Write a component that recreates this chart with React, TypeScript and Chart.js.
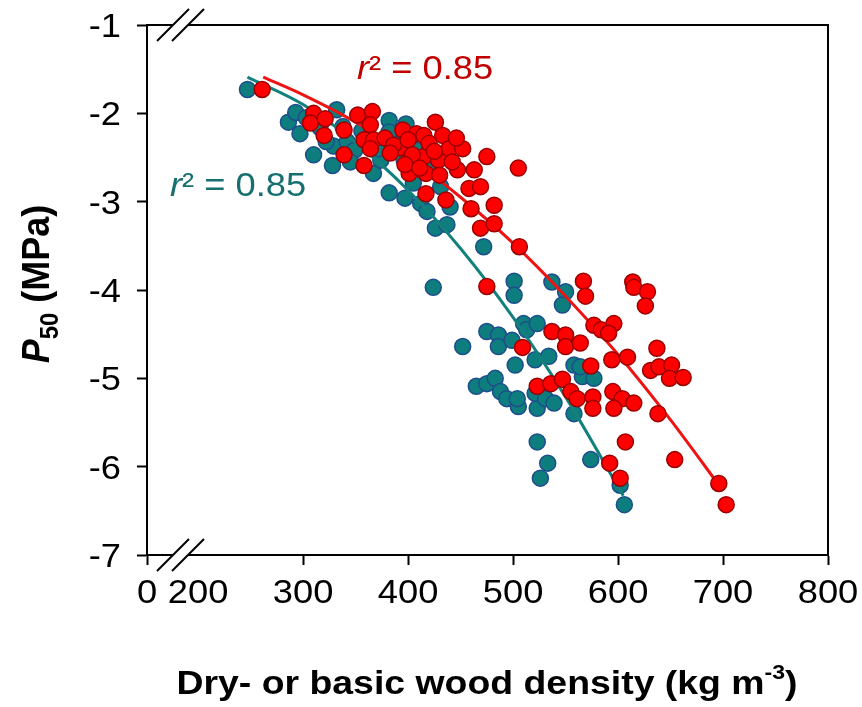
import React, { useEffect, useRef } from "react";
import { Chart, registerables } from "chart.js";
Chart.register(...registerables);

// ---------- data ----------
const X_MIN = 151.3; // broken axis: left edge is labelled "0"
const X_MAX = 800;
const X_TICKS = [151.3, 200, 300, 400, 500, 600, 700, 800];
const X_TICK_LABELS = ["0", "200", "300", "400", "500", "600", "700", "800"];
const Y_TICKS = [-1, -2, -3, -4, -5, -6, -7];
const Y_TICK_LABELS = ["-1", "-2", "-3", "-4", "-5", "-6", "-7"];

const tealX = [247, 286, 293, 297, 310, 332, 329, 328, 342, 382, 382, 367, 374, 382, 397, 412, 418, 426, 437, 440, 431, 405, 472, 424,
  501, 501, 537, 550, 547, 452, 475, 486, 486, 499, 502, 510, 513, 523, 521, 534, 558, 567, 566, 577, 465, 475, 483, 488, 494, 505,
  504, 523, 521, 531, 539, 558, 523, 533, 526, 574, 602, 606, 564,
  303, 316, 322, 338, 349, 356, 372, 388, 396, 408, 420, 398, 345];
const tealY = [-1.73, -2.10, -1.99, -2.23, -2.47, -1.96, -2.37, -2.59, -2.32, -2.08, -2.21, -2.68, -2.53, -2.90, -2.96, -3.02, -3.11, -3.30, -3.26, -3.06, -2.83, -2.79, -3.51, -3.97,
  -3.90, -4.06, -3.91, -4.02, -4.17, -4.64, -4.47, -4.51, -4.64, -4.57, -4.85, -4.38, -4.45, -4.38, -4.79, -4.75, -4.85, -4.89, -4.98, -5.00, -5.09, -5.06, -5.00, -5.15, -5.23, -5.32,
  -5.23, -5.34, -5.17, -5.23, -5.28, -5.40, -5.72, -5.96, -6.13, -5.92, -6.21, -6.43, -4.87,
  -2.05, -2.16, -2.32, -2.15, -2.42, -2.20, -2.40, -2.35, -2.52, -2.42, -2.62, -2.12, -2.55];

const redX = [261, 310, 307, 321, 320, 339, 339, 352, 366, 364, 358, 367, 358, 364, 395, 408, 392, 415, 426, 433, 439, 415, 429, 401,
  417, 417, 436, 452, 463, 475, 458, 469, 482, 460, 469, 482, 447, 475, 506, 505, 567, 569, 614, 615, 628, 626, 537, 550, 550, 564,
  509, 577, 584, 596, 591, 594, 609, 574, 637, 631, 639, 651, 649, 662, 523, 536, 547, 555, 561, 576, 576, 595, 604, 615, 596, 638,
  607, 654, 592, 602, 696, 703,
  378, 386, 400, 404, 420, 425, 397, 411, 442, 446, 383, 430];
const redY = [-1.73, -2.00, -2.11, -2.06, -2.25, -2.19, -2.47, -2.02, -1.98, -2.13, -2.30, -2.30, -2.59, -2.40, -2.19, -2.23, -2.39, -2.25, -2.10, -2.25, -2.40, -2.49, -2.53, -2.68,
  -2.68, -2.91, -2.98, -2.40, -2.64, -2.49, -2.85, -2.83, -3.04, -3.08, -3.30, -3.25, -2.64, -3.96, -3.51, -2.62, -3.90, -4.07, -3.91, -3.97, -4.02, -4.18, -4.47, -4.51, -4.64, -4.60,
  -4.65, -4.40, -4.45, -4.38, -4.49, -4.79, -4.76, -4.86, -4.66, -4.91, -4.87, -4.85, -5.00, -4.99, -5.09, -5.06, -5.01, -5.15, -5.23, -5.21, -5.34, -5.15, -5.23, -5.28, -5.34, -5.40,
  -5.72, -5.92, -5.96, -6.13, -6.19, -6.43,
  -2.28, -2.36, -2.30, -2.47, -2.34, -2.43, -2.58, -2.62, -2.55, -2.28, -2.45, -2.70];

const tealFitX = [247, 300, 350, 400, 450, 500, 550, 605];
const tealFitY = [-1.59, -1.90, -2.33, -2.87, -3.53, -4.31, -5.21, -6.33];
const redFitX = [262, 300, 350, 400, 450, 500, 550, 600, 650, 698];
const redFitY = [-1.59, -1.79, -2.10, -2.49, -2.95, -3.47, -4.07, -4.73, -5.47, -6.24];

const R2_RED = "0.85";
const R2_TEAL = "0.85";
const X_TITLE_MAIN = "Dry- or basic wood density (kg m";
const X_TITLE_SUP = "-3";
const Y_TITLE_P = "P";
const Y_TITLE_SUB = "50";
const Y_TITLE_REST = " (MPa)";

// ---------- styles ----------
const FONT = "'Liberation Sans', Arial, sans-serif";
const STRETCH = 1.1;

type Part = { text: string; font: string; dy?: number; color?: string };

function drawParts(ctx: CanvasRenderingContext2D, parts: Part[], x: number, y: number, align: string, sx: number, rotate = false) {
  ctx.save();
  let total = 0;
  const widths: number[] = [];
  for (const p of parts) {
    ctx.font = p.font;
    const w = ctx.measureText(p.text).width;
    widths.push(w);
    total += w;
  }
  ctx.translate(x, y);
  if (rotate) {
    ctx.rotate(-Math.PI / 2);
    ctx.scale(1, sx);
  } else {
    ctx.scale(sx, 1);
  }
  let start = align === "center" ? -total / 2 : align === "right" ? -total : 0;
  ctx.textAlign = "left";
  ctx.textBaseline = "alphabetic";
  parts.forEach((p, i) => {
    ctx.font = p.font;
    if (p.color) ctx.fillStyle = p.color;
    ctx.fillText(p.text, start, p.dy || 0);
    start += widths[i];
  });
  ctx.restore();
}

function drawBreak(ctx: CanvasRenderingContext2D, x0: number, yAxis: number) {
  // two parallel slashes crossing the axis line, with white between them
  const h = 16;
  const dx = 16;
  const gap = 15;
  ctx.save();
  ctx.fillStyle = "#fff";
  ctx.beginPath();
  ctx.moveTo(x0 + dx - 6, yAxis + 6);
  ctx.lineTo(x0 + dx + 6, yAxis - 6);
  ctx.lineTo(x0 + dx + gap + 6, yAxis - 6);
  ctx.lineTo(x0 + dx + gap - 6, yAxis + 6);
  ctx.closePath();
  ctx.fill();
  ctx.strokeStyle = "#000";
  ctx.lineWidth = 2;
  for (const off of [0, gap]) {
    ctx.beginPath();
    ctx.moveTo(x0 + off, yAxis + h);
    ctx.lineTo(x0 + off + 2 * dx, yAxis - h);
    ctx.stroke();
  }
  ctx.restore();
}

const decorPlugin = {
  id: "decor",
  afterDraw(chart: any) {
    const ctx: CanvasRenderingContext2D = chart.ctx;
    const { left, right, top, bottom } = chart.chartArea;
    const xs = chart.scales.x;
    const ys = chart.scales.y;
    // frame (top and right)
    ctx.save();
    ctx.strokeStyle = "#000";
    ctx.lineWidth = 2;
    ctx.beginPath();
    ctx.moveTo(left - 1, top);
    ctx.lineTo(right, top);
    ctx.lineTo(right, bottom);
    ctx.stroke();
    ctx.restore();
    // axis breaks
    drawBreak(ctx, left + 10, top);
    drawBreak(ctx, left + 10, bottom);
    // tick labels
    ctx.fillStyle = "#000";
    const tickFont = `33px ${FONT}`;
    X_TICKS.forEach((v, i) => {
      const px = xs.getPixelForValue(v);
      drawParts(ctx, [{ text: X_TICK_LABELS[i], font: tickFont }], px, bottom + 48, "center", STRETCH);
    });
    Y_TICKS.forEach((v, i) => {
      const py = ys.getPixelForValue(v);
      drawParts(ctx, [{ text: Y_TICK_LABELS[i], font: tickFont }], left - 26, py + 12, "right", STRETCH);
    });
    // axis titles
    drawParts(ctx, [
      { text: X_TITLE_MAIN, font: `bold 34px ${FONT}` },
      { text: X_TITLE_SUP, font: `bold 21px ${FONT}`, dy: -15 },
      { text: ")", font: `bold 34px ${FONT}` },
    ], 487, 694, "center", STRETCH);
    drawParts(ctx, [
      { text: Y_TITLE_P, font: `italic bold 36px ${FONT}` },
      { text: Y_TITLE_SUB, font: `bold 24px ${FONT}`, dy: 8 },
      { text: Y_TITLE_REST, font: `bold 36px ${FONT}` },
    ], 49, 284, "center", STRETCH, true);
    // r² annotations
    drawParts(ctx, [
      { text: "r", font: `italic 33px ${FONT}`, color: "#C00000" },
      { text: "² = " + R2_RED, font: `33px ${FONT}`, color: "#C00000" },
    ], 357, 79, "left", STRETCH);
    drawParts(ctx, [
      { text: "r", font: `italic 33px ${FONT}`, color: "#17706F" },
      { text: "² = " + R2_TEAL, font: `33px ${FONT}`, color: "#17706F" },
    ], 170, 196, "left", STRETCH);
  },
};

export default function App() {
  const ref = useRef<HTMLCanvasElement | null>(null);
  useEffect(() => {
    if (!ref.current) return;
    const toPts = (xs: number[], ys: number[]) => xs.map((x, i) => ({ x, y: ys[i] }));
    const tickGrid = (hideValue?: number) => ({
      drawOnChartArea: false,
      drawTicks: true,
      tickLength: 10,
      tickWidth: 2,
      tickColor: (c: any) => (c.tick && hideValue !== undefined && Math.abs(c.tick.value - hideValue) < 0.01 ? "rgba(0,0,0,0)" : "#000"),
    });
    const chart = new Chart(ref.current, {
      type: "scatter",
      data: {
        datasets: [
          { type: "scatter", data: toPts(redX, redY), backgroundColor: "#FF0000", borderColor: "#990000", borderWidth: 1.5, pointRadius: 8, order: 0 } as any,
          { type: "line", data: toPts(redFitX, redFitY), borderColor: "#EE1414", borderWidth: 3, pointRadius: 0, fill: false, cubicInterpolationMode: "monotone", order: 1 } as any,
          { type: "line", data: toPts(tealFitX, tealFitY), borderColor: "#13817B", borderWidth: 3, pointRadius: 0, fill: false, cubicInterpolationMode: "monotone", order: 2 } as any,
          { type: "scatter", data: toPts(tealX, tealY), backgroundColor: "#0E7D7E", borderColor: "#1D4E8C", borderWidth: 1.5, pointRadius: 8, order: 3 } as any,
        ],
      },
      options: {
        animation: false,
        responsive: false,
        devicePixelRatio: 1,
        layout: { padding: { left: 0, top: 25, right: 34, bottom: 0 } },
        plugins: { legend: { display: false }, tooltip: { enabled: false } },
        scales: {
          x: {
            type: "linear",
            min: X_MIN,
            max: X_MAX,
            afterBuildTicks: (s: any) => { s.ticks = X_TICKS.map((v) => ({ value: v })); },
            afterFit: (s: any) => { s.height = 152; },
            ticks: { display: false },
            grid: tickGrid(200) as any,
            border: { display: true, color: "#000", width: 2 },
          },
          y: {
            type: "linear",
            min: -7,
            max: -1,
            afterBuildTicks: (s: any) => { s.ticks = Y_TICKS.map((v) => ({ value: v })); },
            afterFit: (s: any) => { s.width = 147; },
            ticks: { display: false },
            grid: tickGrid() as any,
            border: { display: true, color: "#000", width: 2 },
          },
        },
      } as any,
      plugins: [decorPlugin],
    });
    return () => chart.destroy();
  }, []);
  return (
    <div style={{ position: "fixed", left: 0, top: 0, width: 862, height: 707, background: "#fff" }}>
      <canvas ref={ref} width={862} height={707} style={{ display: "block" }} />
    </div>
  );
}
